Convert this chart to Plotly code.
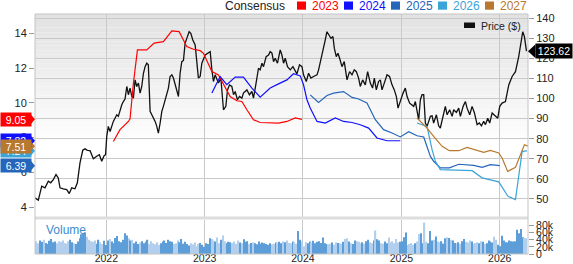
import numpy as np
import pandas as pd
import plotly.graph_objects as go

# ---------------- data ----------------
# times are decimal years
price_t = [2021.274, 2021.308, 2021.343, 2021.376, 2021.410, 2021.434, 2021.461, 2021.488, 2021.511, 2021.529,
           2021.562, 2021.597, 2021.623, 2021.648, 2021.681, 2021.705, 2021.732, 2021.760, 2021.783, 2021.807,
           2021.834, 2021.868, 2021.902, 2021.929, 2021.953, 2021.977, 2021.992, 2022.004, 2022.020, 2022.038,
           2022.071, 2022.106, 2022.122, 2022.139, 2022.157, 2022.173, 2022.190, 2022.208, 2022.224, 2022.241,
           2022.259, 2022.275, 2022.292, 2022.309, 2022.326, 2022.343, 2022.360, 2022.377, 2022.394, 2022.411,
           2022.427, 2022.445, 2022.462, 2022.478, 2022.496, 2022.513, 2022.529, 2022.547, 2022.564, 2022.580,
           2022.597, 2022.615, 2022.631, 2022.648, 2022.666, 2022.682, 2022.699, 2022.717, 2022.733, 2022.750,
           2022.767, 2022.784, 2022.801, 2022.818, 2022.842, 2022.859, 2022.879, 2022.903, 2022.920, 2022.936,
           2022.954, 2022.971, 2023.005, 2023.038, 2023.056, 2023.073, 2023.089, 2023.106, 2023.124, 2023.140,
           2023.164, 2023.191, 2023.215, 2023.232, 2023.252, 2023.276, 2023.293, 2023.310, 2023.333, 2023.354,
           2023.378, 2023.394, 2023.429, 2023.455, 2023.480, 2023.496, 2023.514, 2023.531, 2023.547, 2023.564,
           2023.582, 2023.598, 2023.625, 2023.649, 2023.666, 2023.684, 2023.700, 2023.717, 2023.740, 2023.768,
           2023.785, 2023.802, 2023.819, 2023.842, 2023.870, 2023.897, 2023.921, 2023.938, 2023.964, 2023.989,
           2024.005, 2024.033, 2024.056, 2024.080, 2024.107, 2024.142, 2024.158, 2024.182, 2024.209, 2024.226,
           2024.243, 2024.260, 2024.284, 2024.304, 2024.318, 2024.338, 2024.355, 2024.372, 2024.396, 2024.419,
           2024.447, 2024.473, 2024.498, 2024.521, 2024.542, 2024.565, 2024.582, 2024.606, 2024.633, 2024.657,
           2024.684, 2024.707, 2024.725, 2024.745, 2024.768, 2024.786, 2024.803, 2024.826, 2024.854, 2024.880,
           2024.905, 2024.928, 2024.949, 2024.966, 2024.989, 2025.017, 2025.040, 2025.058, 2025.084, 2025.108,
           2025.125, 2025.142, 2025.159, 2025.176, 2025.193, 2025.210, 2025.227, 2025.244, 2025.261, 2025.295,
           2025.312, 2025.328, 2025.356, 2025.379, 2025.396, 2025.424, 2025.447, 2025.465, 2025.491, 2025.516,
           2025.532, 2025.559, 2025.583, 2025.600, 2025.628, 2025.651, 2025.668, 2025.695, 2025.719, 2025.743,
           2025.770, 2025.793, 2025.814, 2025.837, 2025.855, 2025.878, 2025.898, 2025.923, 2025.956, 2025.980,
           2026.000, 2026.024, 2026.058, 2026.092, 2026.126, 2026.160, 2026.193, 2026.211, 2026.234, 2026.251,
           2026.272]
price = [50.5, 49.3, 56.3, 55.5, 58.8, 58.0, 59.6, 62.1, 60.4, 55.5,
         55.0, 54.6, 52.6, 55.5, 55.0, 58.0, 67.9, 74.2, 74.9, 74.2,
         74.0, 70.0, 71.2, 72.0, 68.7, 71.5, 72.0, 81.1, 86.1, 83.6,
         88.6, 91.9, 91.1, 94.4, 96.9, 98.5, 99.7, 106.0, 101.9, 105.2,
         101.0, 100.2, 109.3, 106.0, 107.7, 102.7, 106.0, 112.6, 115.9, 117.6,
         116.8, 93.6, 91.9, 91.1, 88.6, 86.1, 82.8, 87.8, 93.6, 96.1,
         99.4, 103.5, 105.2, 111.0, 111.8, 110.2, 106.8, 104.3, 101.0, 112.6,
         118.4, 119.0, 127.6, 130.0, 133.3, 132.5, 129.2, 126.7, 119.3, 110.2,
         111.0, 117.6, 121.7, 122.6, 123.4, 114.3, 108.5, 111.8, 109.3, 107.7,
         110.2, 94.4, 96.1, 104.3, 106.8, 106.0, 101.9, 103.5, 99.4, 101.0,
         100.2, 102.7, 104.3, 101.9, 103.5, 100.2, 105.2, 111.0, 115.1, 114.3,
         117.6, 115.9, 120.9, 121.7, 123.4, 122.6, 118.4, 120.1, 117.6, 124.2,
         121.7, 117.6, 120.1, 115.9, 114.3, 115.9, 113.4, 112.3, 116.8, 115.9,
         111.8, 108.5, 112.6, 110.2, 111.0, 111.8, 114.3, 119.3, 124.2, 129.2,
         133.3, 131.7, 130.0, 130.9, 125.1, 120.9, 122.6, 120.1, 115.9, 118.4,
         109.3, 113.4, 111.8, 114.3, 113.4, 110.2, 106.0, 109.3, 106.8, 113.4,
         107.7, 105.2, 110.2, 104.3, 108.5, 109.3, 104.3, 107.7, 111.8, 111.0,
         106.8, 104.3, 101.0, 95.2, 99.0, 102.7, 105.2, 101.0, 97.7, 96.9,
         96.1, 98.5, 94.4, 89.4, 99.4, 101.9, 101.9, 87.8, 86.1, 91.1,
         91.4, 87.8, 91.9, 86.4, 85.3, 91.1, 96.1, 91.9, 94.4, 91.1,
         94.4, 93.1, 95.2, 91.1, 96.1, 98.5, 95.2, 91.9, 96.1, 92.8,
         87.0, 87.8, 86.4, 88.6, 87.0, 90.2, 87.8, 92.8, 91.1, 90.2,
         96.1, 97.7, 98.5, 106.8, 111.0, 113.4, 120.9, 127.6, 133.3, 130.9,
         123.62]

eps2023_t = [2022.071, 2022.139, 2022.224, 2022.241, 2022.275, 2022.316, 2022.411, 2022.486, 2022.580, 2022.666,
             2022.740, 2022.818, 2022.885, 2022.954, 2022.987, 2023.073, 2023.140, 2023.208, 2023.259, 2023.327,
             2023.378, 2023.429, 2023.496, 2023.564, 2023.666, 2023.751, 2023.836, 2023.921, 2023.989]
eps2023 = [7.78, 8.46, 8.93, 9.08, 11.13, 13.04, 13.04, 13.43, 13.52, 14.13,
           14.09, 13.23, 13.08, 13.00, 12.85, 11.80, 11.60, 10.85, 10.36, 10.12,
           10.08, 9.60, 9.03, 8.87, 8.87, 8.84, 8.93, 9.13, 9.05]

eps2024_t = [2023.073, 2023.157, 2023.225, 2023.310, 2023.394, 2023.480, 2023.564, 2023.666, 2023.751, 2023.836,
             2023.903, 2023.972, 2024.005, 2024.040, 2024.073, 2024.142, 2024.226, 2024.328, 2024.412, 2024.498,
             2024.582, 2024.667, 2024.752, 2024.854, 2024.989]
eps2024 = [10.56, 11.51, 11.04, 11.48, 11.48, 10.85, 10.33, 10.85, 11.09, 11.32,
           11.67, 11.55, 11.04, 10.18, 9.70, 8.93, 8.84, 9.13, 8.93, 8.87,
           8.74, 8.55, 7.98, 7.82, 7.82]

eps2025_t = [2024.073, 2024.158, 2024.243, 2024.310, 2024.412, 2024.498, 2024.565, 2024.650, 2024.735, 2024.819,
             2024.905, 2024.989, 2025.074, 2025.159, 2025.227, 2025.295, 2025.328, 2025.396, 2025.488, 2025.583,
             2025.735, 2025.821, 2025.905, 2026.000]
eps2025 = [10.46, 10.02, 10.42, 10.56, 10.65, 10.31, 10.22, 9.99, 9.03, 8.46,
           8.27, 8.04, 8.34, 8.11, 8.04, 6.92, 6.64, 6.26, 6.26, 6.47,
           6.41, 6.29, 6.45, 6.39]

eps2026_t = [2025.159, 2025.261, 2025.312, 2025.346, 2025.396, 2025.532, 2025.719, 2025.821, 2025.990, 2026.084,
             2026.160, 2026.228, 2026.277]
eps2026 = [8.84, 8.64, 7.31, 6.64, 6.16, 6.13, 6.10, 5.69, 5.46, 4.63,
           4.44, 7.21, 7.24]

eps2027_t = [2025.159, 2025.261, 2025.328, 2025.414, 2025.488, 2025.583, 2025.668, 2025.753, 2025.837, 2025.905,
             2025.990, 2026.024, 2026.081, 2026.160, 2026.211, 2026.251, 2026.287]
eps2027 = [9.13, 8.55, 8.07, 7.50, 7.25, 7.25, 7.44, 7.31, 7.15, 7.27,
           7.12, 6.83, 6.06, 6.29, 7.02, 7.59, 7.51]

# weekly volume, thousands of shares
vol_start = "2021-04-09"
volume_k = [33, 36, 30, 38, 34, 40, 31, 28, 37, 42, 33, 35, 30, 36,
            34, 38, 31, 29, 36, 40, 33, 30, 28, 35, 44,
            55, 58, 60, 48, 40, 36,
            34, 38, 29, 40, 33, 28, 37, 25,
            38, 42, 35, 30, 45, 50, 36, 33, 40, 58,
            52, 44, 38, 40, 30, 35, 28, 32, 36, 30,
            34, 40, 28, 36, 30, 27, 33, 26, 30, 35, 38,
            31, 40, 36, 34, 28, 30, 38, 33, 42, 29,
            34, 28, 24, 30, 27, 32, 22, 29, 31, 26,
            20, 30, 28, 44, 42, 38, 35, 46, 30, 40, 52,
            36, 30, 34, 33, 31, 35, 29, 38, 32, 30, 41,
            34, 36, 28, 31, 33, 30, 27, 35, 29, 32, 30,
            28, 26, 30, 27, 29, 32, 31, 34, 30, 36, 33,
            38, 31, 30, 35, 33, 29, 64, 40, 36,
            22, 33, 30, 35, 32, 37, 30, 34, 36, 31, 46,
            30, 28, 27, 29, 32, 26, 33, 31, 30, 28, 34,
            42, 44, 35, 30, 28, 38, 36, 34, 30, 33, 29,
            36, 40, 33, 30, 38, 66, 41, 38, 30, 29,
            35, 30, 46, 33, 36, 30, 42, 32, 34, 36,
            47, 60, 25, 28, 31, 26, 30, 35, 56, 58, 30,
            88, 34, 30, 64, 38, 40, 49, 35, 33, 36, 29,
            44, 47, 45, 40, 38, 31, 30, 33, 28, 36, 42,
            34, 32, 38, 35, 29, 31, 33, 30, 36, 34, 28,
            30, 38, 35, 32, 48, 40, 26, 22, 51, 38, 33,
            32, 38, 36, 35, 36, 68, 58, 70, 47, 45, 44]

left_ticks = [4, 6, 8, 10, 12, 14]
right_ticks = [50, 60, 70, 80, 90, 100, 110, 120, 130, 140]
vol_ticks = [0, 20000, 40000, 60000, 80000]
vol_ticktext = ["0", "20k", "40k", "60k", "80k"]
years = ["2023", "2024", "2025", "2026", "2027"]

# ---------------- styling ----------------
W, H = 573, 264
ML, MR, MT, MB = 35, 45, 14, 10
PW = W - ML - MR
PH = H - MT - MB
FONT = "Liberation Sans, Arial, sans-serif"
GRID = "#c9c9c9"
colors = {"2023": "#ff0000", "2024": "#1010ff", "2025": "#2566ba",
          "2026": "#3ba4d8", "2027": "#b8792e"}


def px(x):
    return (x - ML) / PW


def py(y):
    return (H - MB - y) / PH


BASE = pd.Timestamp("2022-01-01")


def to_dates(ts):
    return [BASE + pd.Timedelta(days=(t - 2022) * 365.25) for t in ts]


x_range = [pd.Timestamp("2021-04-11"), pd.Timestamp("2026-04-16")]

fig = go.Figure()

# volume bars
vol_dates = pd.date_range(vol_start, periods=len(volume_k), freq="7D")
vol_t = 2022 + (vol_dates - BASE).days / 365.25
p_at = np.interp(vol_t, price_t, price)
up = np.concatenate([[True], np.diff(p_at) >= 0])
bar_colors = ["#5d9dd8" if u else "#b2d0ee" for u in up]
fig.add_trace(go.Bar(x=vol_dates, y=np.array(volume_k) * 1000, marker_color=bar_colors,
                     marker_line_width=0, xaxis="x2", yaxis="y3", showlegend=False,
                     hoverinfo="skip"))

# price line (right axis)
fig.add_trace(go.Scatter(x=to_dates(price_t), y=price, mode="lines",
                         line=dict(color="#111111", width=1.3), xaxis="x", yaxis="y",
                         showlegend=False))

# consensus EPS lines (left axis)
series = [("2023", eps2023_t, eps2023), ("2024", eps2024_t, eps2024),
          ("2025", eps2025_t, eps2025), ("2026", eps2026_t, eps2026),
          ("2027", eps2027_t, eps2027)]
for name, ts, vals in series:
    fig.add_trace(go.Scatter(x=to_dates(ts), y=vals, mode="lines",
                             line=dict(color=colors[name], width=1.2),
                             xaxis="x", yaxis="y2", showlegend=False))

shapes = []
annotations = []

# gradient background in the price panel
n_bands = 30
g_top, g_bot = 14, 150
for i in range(n_bands):
    y0 = g_top + (g_bot - g_top) * i / n_bands
    y1 = g_top + (g_bot - g_top) * (i + 1) / n_bands
    c = int(round(226 + (255 - 226) * (i + 0.5) / n_bands))
    shapes.append(dict(type="rect", xref="paper", yref="paper", x0=0, x1=1,
                       y0=py(y1), y1=py(y0), fillcolor=f"rgb({c},{c},{c})",
                       line=dict(width=0), layer="below"))

# separator between panels and the frame
shapes.append(dict(type="rect", xref="paper", yref="paper", x0=0, x1=1,
                   y0=py(219.5), y1=py(216.5), fillcolor="#dddddd", line=dict(width=0),
                   layer="above"))
shapes.append(dict(type="rect", xref="paper", yref="paper", x0=0, x1=1, y0=0, y1=1,
                   line=dict(color="#c4c4c4", width=1), layer="above"))

# top legend
annotations.append(dict(text="Consensus", xref="paper", yref="paper", x=px(223), y=py(5.5),
                        xanchor="left", yanchor="middle", showarrow=False,
                        font=dict(family=FONT, size=12, color="#222222")))
sq_left = [297, 344, 391, 438, 485]
for name, sx in zip(years, sq_left):
    shapes.append(dict(type="rect", xref="paper", yref="paper", x0=px(sx), x1=px(sx + 9),
                       y0=py(9.7), y1=py(1.5), fillcolor=colors[name], line=dict(width=0)))
    annotations.append(dict(text=name, xref="paper", yref="paper", x=px(sx + 12.5), y=py(5.5),
                            xanchor="left", yanchor="middle", showarrow=False,
                            font=dict(family=FONT, size=12, color=colors[name])))

# price legend inside plot
shapes.append(dict(type="rect", xref="paper", yref="paper", x0=px(464), x1=px(475),
                   y0=py(28), y1=py(22.5), fillcolor="#111111", line=dict(width=0)))
annotations.append(dict(text="Price ($)", xref="paper", yref="paper", x=px(478.5), y=py(25.5),
                        xanchor="left", yanchor="middle", showarrow=False,
                        font=dict(family=FONT, size=10.5, color="#222222")))

# volume label
annotations.append(dict(text="Volume", xref="paper", yref="paper", x=px(44), y=py(229.5),
                        xanchor="left", yanchor="middle", showarrow=False,
                        font=dict(family=FONT, size=12, color="#3d8bd0")))

# last price label (right)
last_price = price[-1]
hh = 7.0 / 2.011
shapes.append(dict(type="path", xref="paper", yref="y",
                   path=f"M {px(528)},{last_price} L {px(535.5)},{last_price + hh} "
                        f"L {px(535.5)},{last_price - hh} Z",
                   fillcolor="#000000", line=dict(width=0)))
annotations.append(dict(text=f"{last_price:.2f}", xref="paper", yref="y", x=px(535),
                        y=last_price, xanchor="left", yanchor="middle", showarrow=False,
                        width=36, height=14, bgcolor="#000000", borderpad=0,
                        font=dict(family=FONT, size=10.5, color="#ffffff")))

# last EPS labels (left)
eh = 6.5 / 17.44
label_order = ["2024", "2026", "2027", "2025", "2023"]
last_vals = {name: vals[-1] for name, ts, vals in series}
for name in label_order:
    v = last_vals[name]
    shapes.append(dict(type="path", xref="paper", yref="y2",
                       path=f"M {px(29.5)},{v + eh} L {px(35)},{v} L {px(29.5)},{v - eh} Z",
                       fillcolor=colors[name], line=dict(width=0)))
    annotations.append(dict(text=f"{v:.2f}", xref="paper", yref="y2", x=px(0), y=v,
                            xanchor="left", yanchor="middle", showarrow=False,
                            width=30, height=13, bgcolor=colors[name], borderpad=0,
                            font=dict(family=FONT, size=10.5, color="#ffffff")))

main_dom = [py(216.5), 1]
vol_dom = [0, py(219.5)]

fig.update_layout(
    width=W, height=H,
    margin=dict(l=ML, r=MR, t=MT, b=MB, pad=0, autoexpand=False),
    paper_bgcolor="#ffffff", plot_bgcolor="rgba(0,0,0,0)",
    showlegend=False, bargap=0.35,
    font=dict(family=FONT, size=11, color="#222222"),
    xaxis=dict(domain=[0, 1], anchor="y", type="date", range=x_range, automargin=False,
               showticklabels=False, showgrid=True, gridcolor=GRID, gridwidth=1,
               dtick="M12", tick0="2022-01-01", ticks="", zeroline=False, showline=False),
    xaxis2=dict(domain=[0, 1], anchor="free", position=py(250.5), overlaying=None,
                type="date", range=x_range, matches="x",
                automargin=False,
                showticklabels=True, tickformat="%Y", showgrid=True, gridcolor=GRID,
                dtick="M12", tick0="2022-01-01", ticks="", zeroline=False, showline=False,
                tickfont=dict(family=FONT, size=10.5, color="#222222")),
    yaxis=dict(domain=main_dom, anchor="x", side="right", range=[41.19, 142.14],
               automargin=False,
               tickvals=right_ticks, showgrid=True, gridcolor=GRID, gridwidth=1,
               ticks="outside", ticklen=5, tickcolor="#999999", zeroline=False,
               showline=False, tickfont=dict(family=FONT, size=11, color="#222222")),
    yaxis2=dict(overlaying="y", side="left", anchor="x", range=[3.467, 15.107],
                automargin=False,
                tickvals=left_ticks, showgrid=False, ticks="outside", ticklen=5,
                tickcolor="#999999", zeroline=False, showline=False,
                tickfont=dict(family=FONT, size=11, color="#222222")),
    yaxis3=dict(domain=vol_dom, anchor="x2", side="right", range=[0, 96500],
                automargin=False,
                tickvals=vol_ticks, ticktext=vol_ticktext, showgrid=False,
                ticks="outside", ticklen=5, tickcolor="#999999", zeroline=False,
                showline=False, tickfont=dict(family=FONT, size=10.5, color="#222222")),
    shapes=shapes,
    annotations=annotations,
)

fig.write_html("out.html")
